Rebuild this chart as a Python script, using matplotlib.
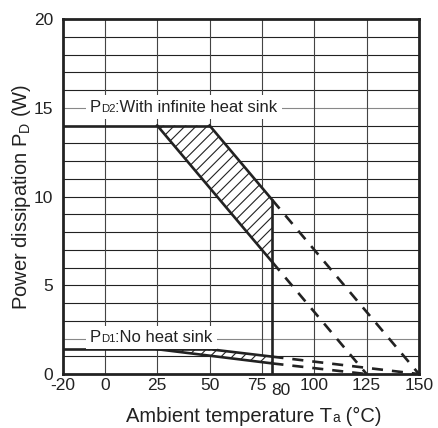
import matplotlib
matplotlib.use('Agg')
import matplotlib.pyplot as plt
import matplotlib.transforms as mtransforms
from matplotlib.offsetbox import TextArea, HPacker, AnnotationBbox

plt.rcParams['font.family'] = ['Liberation Sans', 'DejaVu Sans']
plt.rcParams['mathtext.default'] = 'regular'
plt.rcParams['hatch.linewidth'] = 0.8

# derating curves
pd2_flat_x = [-20, 25]
pd2_flat_y = [14, 14]
pd2_low_x = [25, 80]
pd2_low_y = [14, 6.3]
pd2_low_dash_x = [80, 125]
pd2_low_dash_y = [6.3, 0]
pd2_up_x = [50, 80]
pd2_up_y = [14, 9.8]
pd2_up_dash_x = [80, 150]
pd2_up_dash_y = [9.8, 0]

pd1_flat_x = [-20, 25]
pd1_flat_y = [1.4, 1.4]
pd1_low_x = [25, 80]
pd1_low_y = [1.4, 0.6]
pd1_low_dash_x = [80, 125]
pd1_low_dash_y = [0.6, 0]
pd1_up_x = [50, 80]
pd1_up_y = [1.4, 0.98]
pd1_up_dash_x = [80, 150]
pd1_up_dash_y = [0.98, 0]

xticks = [-20, 0, 25, 50, 75, 80, 100, 125, 150]
xtick_labels = ['-20', '0', '25', '50', '75', '80', '100', '125', '150']
vgrid = [0, 25, 50, 75, 100, 125]
yticks = [0, 5, 10, 15, 20]
label_lines = [15, 2]

INK = '#222222'

fig = plt.figure(figsize=(4.38, 4.28), dpi=100)
ax = fig.add_axes([0.1438, 0.126, 0.8128, 0.8296])
ax.set_xlim(-20, 150)
ax.set_ylim(0, 20)

# grid
for y in range(1, 20):
    c = '#888888' if y in label_lines else INK
    ax.axhline(y, color=c, lw=0.8, zorder=1)
for x in vgrid:
    ax.axvline(x, color='#444444', lw=0.8, zorder=1)

lw = 1.9
dash = (0, (4.2, 3.4))
for fx, fy, lx, ly, ldx, ldy, ux, uy, udx, udy in [
        (pd2_flat_x, pd2_flat_y, pd2_low_x, pd2_low_y, pd2_low_dash_x, pd2_low_dash_y,
         pd2_up_x, pd2_up_y, pd2_up_dash_x, pd2_up_dash_y),
        (pd1_flat_x, pd1_flat_y, pd1_low_x, pd1_low_y, pd1_low_dash_x, pd1_low_dash_y,
         pd1_up_x, pd1_up_y, pd1_up_dash_x, pd1_up_dash_y)]:
    # hatched band between the two slopes
    px = lx[:1] + ux + lx[::-1][:1]
    py = ly[:1] + uy + ly[::-1][:1]
    ax.fill(px, py, facecolor='white', edgecolor=INK, hatch='///', lw=0, zorder=2)
    ax.plot(fx + ux[:1], fy + uy[:1], color=INK, lw=lw, zorder=3, solid_capstyle='butt')
    ax.plot(lx, ly, color=INK, lw=lw, zorder=3)
    ax.plot(ux, uy, color=INK, lw=lw, zorder=3)
    ax.plot(ldx, ldy, color=INK, lw=lw, ls=dash, zorder=3)
    ax.plot(udx, udy, color=INK, lw=lw, ls=dash, zorder=3)

ax.vlines(80, 0, pd2_up_y[-1], color=INK, lw=lw, zorder=3)


def sub_text(parts, size):
    # parts: list of (text, is_small); small text sits on the baseline
    kids = [TextArea(t, textprops=dict(fontsize=size * (0.68 if s else 1.0), color=INK))
            for t, s in parts]
    return HPacker(children=kids, align='baseline', pad=0, sep=0)


for parts, y in [([('P', False), ('D2', True), (':With infinite heat sink', False)], 15),
                 ([('P', False), ('D1', True), (':No heat sink', False)], 2)]:
    ab = AnnotationBbox(sub_text(parts, 12), (-7.2, y), xycoords='data',
                        box_alignment=(0, 0.45), pad=0.3, frameon=True,
                        bboxprops=dict(facecolor='white', edgecolor='none'), zorder=4)
    ax.add_artist(ab)

ax.set_xticks(xticks)
ax.set_xticklabels(xtick_labels)
ax.set_yticks(yticks)
ax.tick_params(length=0, labelsize=12.5, colors=INK)
ax.tick_params(axis='x', pad=3)
ax.tick_params(axis='y', pad=7)
labs = ax.get_xticklabels()
for val, dx, dy in [(75, -5, 0), (80, 8, -5)]:
    lab = labs[xticks.index(val)]
    lab.set_transform(lab.get_transform() +
                      mtransforms.ScaledTranslation(dx / 100, dy / 100, fig.dpi_scale_trans))

for s in ax.spines.values():
    s.set_linewidth(2)
    s.set_color(INK)
    s.set_zorder(5)

# x axis title, baseline-aligned subscript
xl = AnnotationBbox(sub_text([('Ambient temperature T', False), ('a', True), (' (°C)', False)], 14.5),
                    (254 / 438, 2.5 / 428), xycoords='figure fraction',
                    box_alignment=(0.5, 0), pad=0, frameon=False)
fig.add_artist(xl)

ax.set_ylabel(r'Power dissipation P$_{D}$ (W)', fontsize=14.5, color=INK)
ax.yaxis.set_label_coords(-0.084, 0.5)

fig.savefig('out.png', dpi=100)
